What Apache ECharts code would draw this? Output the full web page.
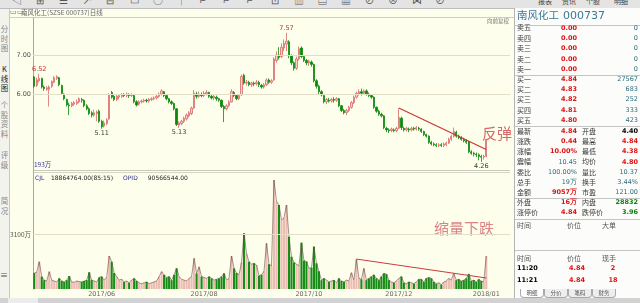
<!DOCTYPE html>
<html><head><meta charset="utf-8">
<script src="https://cdn.jsdelivr.net/npm/echarts/dist/echarts.min.js"></script>
<style>
html,body{margin:0;padding:0;}
body{width:640px;height:303px;overflow:hidden;background:#fefeec;position:relative;font-family:"Noto Sans CJK SC","Noto Sans",sans-serif;}
#chart{position:absolute;left:0;top:0;width:514px;height:303px;}
.abs{position:absolute;white-space:nowrap;}
#panel{position:absolute;left:514px;top:8px;width:126px;height:290px;background:#fcfcfa;border-left:1px solid #b4b4b4;box-sizing:border-box;}
.hl{position:absolute;left:515px;width:125px;height:0;border-top:1px solid #c4c4c4;}
#toolbar{position:absolute;left:0;top:0;width:640px;height:8px;background:#e4e4e4;border-bottom:1px solid #bdbdbd;overflow:hidden;}
#side{position:absolute;left:0;top:9px;width:9px;height:289px;background:#f3f3ee;border-right:1px solid #c8c8c8;overflow:hidden;}
#scroll{position:absolute;left:0;top:298px;width:640px;height:5px;background:#d2d2d2;}
</style></head>
<body>
<div id="chart"></div>
<div id="toolbar"></div>
<div id="side"></div>
<div id="panel"></div>
<div id="scroll"><div style="position:absolute;left:8px;top:0;width:30px;height:5px;background:#ececec"></div></div>
<script>
// ---------- data ----------
// [open, close, low, high]
const ohlc = [
[6.44,6.20,6.16,6.46],[6.22,6.36,6.18,6.42],[6.34,6.40,6.30,6.52],[6.40,6.18,6.14,6.42],[6.18,6.14,6.08,6.22],
[6.12,6.16,6.08,6.20],[6.12,6.18,5.68,6.22],[6.20,6.32,6.16,6.35],[6.30,6.42,6.28,6.46],[6.40,6.44,6.36,6.48],
[6.42,6.24,6.20,6.44],[6.22,6.02,5.98,6.24],[6.00,5.88,5.84,6.02],[5.86,5.72,5.68,5.88],[5.72,5.70,5.46,5.78],
[5.70,5.76,5.66,5.80],[5.74,5.78,5.70,5.82],[5.76,5.80,5.72,5.86],[5.80,5.88,5.76,5.92],[5.86,5.84,5.78,5.90],
[5.84,5.70,5.66,5.86],[5.70,5.62,5.58,5.74],[5.62,5.50,5.46,5.66],[5.52,5.46,5.40,5.56],[5.46,5.52,5.42,5.60],
[5.50,5.54,5.30,5.58],[5.56,5.30,5.26,5.60],[5.30,5.16,5.11,5.34],[5.18,5.26,5.14,5.32],[5.24,5.34,5.20,5.38],
[5.36,5.98,5.34,6.02],[6.04,5.92,5.88,6.08],[5.94,5.86,5.82,5.98],[5.86,5.94,5.82,5.98],[5.92,5.96,5.86,6.00],
[5.94,5.98,5.90,6.02],[5.98,5.96,5.92,6.02],[5.96,6.00,5.92,6.04],[5.98,5.96,5.90,6.02],[5.96,5.98,5.92,6.02],
[5.96,5.80,5.76,5.98],[5.80,5.72,5.68,5.84],[5.74,5.80,5.70,5.84],[5.80,5.82,5.76,5.86],[5.82,5.84,5.78,5.88],
[5.84,5.82,5.78,5.88],[5.82,5.86,5.78,5.90],[5.86,5.88,5.82,5.92],[5.88,5.90,5.84,5.94],[5.90,5.94,5.86,5.98],
[5.94,6.00,5.90,6.04],[6.00,6.08,5.96,6.12],[6.06,5.96,5.92,6.08],[5.96,5.88,5.84,5.98],[5.88,5.80,5.76,5.90],
[5.80,5.76,5.72,5.84],[5.76,5.62,5.58,5.78],[5.62,5.22,5.18,5.64],[5.20,5.26,5.13,5.30],[5.24,5.30,5.20,5.34],
[5.30,5.38,5.26,5.42],[5.36,5.46,5.32,5.50],[5.44,5.52,5.40,5.56],[5.50,5.64,5.46,5.68],[5.64,6.02,5.62,6.10],
[6.00,5.94,5.88,6.06],[5.94,6.00,5.90,6.06],[5.98,5.96,5.92,6.04],[5.96,6.02,5.92,6.08],[6.00,6.04,5.96,6.10],
[6.04,5.94,5.90,6.06],[5.94,5.90,5.86,5.98],[5.90,5.94,5.84,5.98],[5.92,5.88,5.82,5.96],[5.88,5.84,5.80,5.90],
[5.84,5.68,5.64,5.86],[5.68,5.62,5.28,5.72],[5.62,5.70,5.58,5.74],[5.70,5.80,5.66,5.84],[5.80,6.06,5.78,6.12],
[6.04,5.96,5.92,6.08],[5.96,5.88,5.84,6.00],[5.88,5.96,5.84,6.00],[5.98,6.45,5.95,6.50],[6.48,6.28,6.24,6.52],
[6.28,6.30,6.22,6.36],[6.30,6.24,6.20,6.34],[6.24,6.28,6.18,6.32],[6.28,6.26,6.20,6.32],[6.26,6.30,6.22,6.36],
[6.30,6.24,6.18,6.34],[6.22,6.18,6.14,6.26],[6.18,6.24,6.14,6.28],[6.24,6.36,6.20,6.40],[6.36,6.30,6.26,6.40],
[6.30,6.34,6.26,6.38],[6.36,6.90,6.34,6.94],[6.86,7.00,6.80,7.10],[7.00,6.94,6.88,7.20],[6.96,7.20,6.92,7.30],
[7.18,7.30,7.10,7.40],[7.28,7.36,7.10,7.57],[7.34,6.98,6.92,7.38],[6.98,6.80,6.74,7.02],[6.80,6.66,6.60,6.84],
[6.66,6.90,6.62,6.96],[6.90,7.16,6.86,7.22],[7.18,6.96,6.92,7.22],[6.96,6.86,6.82,7.00],[6.86,6.80,6.74,6.90],
[6.80,6.84,6.72,6.88],[6.82,6.76,6.70,6.86],[6.76,6.34,6.30,6.78],[6.34,6.20,6.14,6.38],[6.20,6.06,6.00,6.24],
[6.06,5.98,5.94,6.10],[5.96,5.80,5.76,5.98],[5.80,5.86,5.74,5.90],[5.84,5.82,5.78,5.90],[5.82,5.86,5.78,5.90],
[5.86,5.84,5.78,5.92],[5.84,5.88,5.80,5.92],[5.88,5.70,5.66,5.90],[5.70,5.58,5.54,5.72],[5.58,5.52,5.48,5.62],
[5.52,5.58,5.46,5.62],[5.58,5.66,5.54,5.70],[5.66,5.78,5.62,5.82],[5.78,5.92,5.74,5.96],[5.92,6.02,5.88,6.06],
[6.00,6.06,5.96,6.12],[6.06,6.02,5.96,6.14],[6.02,6.08,5.98,6.12],[6.08,6.00,5.96,6.12],[6.00,5.96,5.92,6.04],
[5.96,5.92,5.88,6.00],[5.92,5.66,5.62,5.94],[5.66,5.56,5.52,5.68],[5.56,5.48,5.44,5.60],[5.48,5.44,5.40,5.52],
[5.44,5.14,5.10,5.46],[5.12,5.08,5.02,5.16],[5.08,5.06,5.00,5.12],[5.06,5.10,5.02,5.14],[5.08,5.06,5.02,5.12],
[5.06,5.12,5.02,5.16],[5.12,5.40,5.10,5.64],[5.38,5.14,5.08,5.42],[5.12,5.08,5.04,5.16],[5.08,5.12,5.04,5.16],
[5.10,5.08,5.02,5.14],[5.08,5.12,5.04,5.16],[5.12,5.10,5.06,5.16],[5.10,5.14,5.06,5.18],[5.12,5.10,5.06,5.16],
[5.10,5.04,5.00,5.12],[5.04,4.96,4.92,5.06],[4.96,4.92,4.88,4.98],[4.92,4.76,4.72,4.94],[4.76,4.72,4.68,4.80],
[4.72,4.70,4.66,4.76],[4.70,4.68,4.64,4.74],[4.68,4.70,4.64,4.74],[4.70,4.68,4.64,4.74],[4.68,4.72,4.64,4.76],
[4.70,4.74,4.66,4.78],[4.74,4.84,4.72,4.88],[4.84,4.92,4.80,4.96],[4.92,5.04,4.88,5.14],[5.02,4.92,4.88,5.06],
[4.92,4.88,4.84,4.96],[4.88,4.84,4.80,4.92],[4.84,4.80,4.76,4.88],[4.80,4.76,4.72,4.84],[4.78,4.52,4.48,4.80],
[4.52,4.48,4.44,4.56],[4.48,4.46,4.40,4.52],[4.46,4.44,4.38,4.50],[4.44,4.40,4.30,4.48],[4.40,4.38,4.26,4.44],
[4.38,4.40,4.32,4.44],[4.40,4.84,4.38,4.84]
];
// volume, 万股
const volumes = [
900,950,1540,700,500,450,980,500,450,400,600,450,400,500,730,400,380,450,420,400,
450,500,940,500,450,400,650,700,500,650,1860,1540,900,700,500,550,400,450,350,500,
600,450,350,300,350,400,300,350,400,450,700,980,800,650,700,500,800,1165,700,550,
500,450,600,700,1730,880,1250,700,650,600,700,600,500,550,600,700,880,500,600,1860,
1165,900,800,1500,3140,2000,1540,1400,1450,1350,750,800,1000,2580,1400,1300,6150,4930,4740,3900,
4000,4740,2950,1820,1500,1400,1300,2610,1600,1550,1165,1200,2390,1450,1000,500,600,500,400,450,
500,350,600,450,400,500,450,920,500,1670,600,550,1165,500,600,700,800,600,500,700,
880,840,500,400,350,450,600,700,350,300,400,350,300,400,550,550,400,600,650,600,
400,300,350,250,400,450,600,500,880,500,550,450,500,600,850,450,500,400,550,450,
400,1860
];
const totalSlots = 191;            // category slots incl. empty space at right
const dateLabels = ['2017/06','2017/08','2017/10','2017/12','2018/01'];
const dateLabelIdx = [27, 68, 110, 146, 181];
const priceTickLabels = [6, 7];
const volTickLabels = [3100];
const extremes = [
  {i:2, v:6.52, pos:'top'}, {i:27, v:5.11, pos:'bottom'}, {i:58, v:5.13, pos:'bottom'},
  {i:101, v:7.57, pos:'top'}, {i:179, v:4.26, pos:'bottom'}
];
const priceTrend = [[146, 5.64], [181, 4.58]];
const volTrend = [[129, 1690], [181, 620]];

// ---------- chart ----------
const cats = Array.from({length: totalSlots}, (_, i) => String(i));
const UP_FILL = '#f5d3ce', UP_LINE = '#d86a6a', DOWN = '#0c880c';
const isUp = d => d[1] >= d[0];
const volData = volumes.map((v, i) => ({
  value: v,
  itemStyle: {color: isUp(ohlc[i]) ? '#ebbcb2' : '#178c17'}
}));

const chart = echarts.init(document.getElementById('chart'), null, {renderer: 'canvas'});
const gridLine = {color: '#e3dfc7', width: 1, type: 'solid'};
chart.setOption({
  animation: false,
  backgroundColor: 'transparent',
  grid: [
    {left: 33, top: 18, width: 477, height: 154},
    {left: 33, top: 172, width: 477, height: 117}
  ],
  xAxis: [
    {type: 'category', data: cats, gridIndex: 0, boundaryGap: true,
     axisLine: {show: false}, axisTick: {show: false}, axisLabel: {show: false}, splitLine: {show: false}},
    {type: 'category', data: cats, gridIndex: 1, boundaryGap: true,
     axisLine: {show: false}, axisTick: {show: false}, splitLine: {show: false},
     axisLabel: {
       show: true, fontSize: 6.5, color: '#666', margin: 2, fontFamily: 'DejaVu Sans',
       interval: (idx) => dateLabelIdx.indexOf(idx) >= 0,
       formatter: (val, idx) => { const k = dateLabelIdx.indexOf(idx); return k >= 0 ? dateLabels[k] : ''; }
     }}
  ],
  yAxis: [
    {type: 'value', gridIndex: 0, min: 4, max: 7.95, interval: 1,
     axisLine: {show: true, lineStyle: {color: '#a8a8a0'}}, axisTick: {show: false}, splitLine: {show: false},
     axisLabel: {fontSize: 6.5, color: '#555', margin: 2, fontFamily: 'DejaVu Sans',
       formatter: v => priceTickLabels.indexOf(v) >= 0 ? v.toFixed(2) : ''}},
    {type: 'value', gridIndex: 1, min: 0, max: 6600, interval: 3100,
     axisLine: {show: true, lineStyle: {color: '#a8a8a0'}}, axisTick: {show: false}, splitLine: {show: false},
     axisLabel: {fontSize: 6.5, color: '#555', margin: 2, fontFamily: 'Noto Sans CJK SC',
       formatter: v => volTickLabels.indexOf(v) >= 0 ? v + '万' : ''}}
  ],
  series: [
    {
      type: 'candlestick', xAxisIndex: 0, yAxisIndex: 0, data: ohlc, barWidth: '72%',
      itemStyle: {color: UP_FILL, borderColor: UP_LINE, color0: DOWN, borderColor0: DOWN, borderWidth: 0.8},
      markLine: {
        silent: true, symbol: 'none', label: {show: false}, animation: false,
        data: [
          ...priceTickLabels.map(v => ({yAxis: v, lineStyle: gridLine})),
          [{coord: priceTrend[0], lineStyle: {color: '#c83434', width: 1.1, type: 'solid'}}, {coord: priceTrend[1]}]
        ]
      },
      markPoint: {
        silent: true, symbol: 'circle', symbolSize: 0.1, animation: false,
        data: extremes.map(e => ({
          coord: [e.i, e.v], value: e.v.toFixed(2),
          label: {show: true, position: e.pos, distance: 1, fontSize: 6.5, fontFamily: 'DejaVu Sans',
                  color: e.pos === 'top' ? '#b43232' : '#2e3e2e', formatter: '{c}'}
        }))
      }
    },
    {
      type: 'bar', xAxisIndex: 1, yAxisIndex: 1, data: volData, barWidth: '85%',
      markLine: {
        silent: true, symbol: 'none', label: {show: false}, animation: false,
        data: [
          ...volTickLabels.map(v => ({yAxis: v, lineStyle: gridLine})),
          [{coord: volTrend[0], lineStyle: {color: '#c83c3c', width: 1, type: 'solid'}}, {coord: volTrend[1]}]
        ]
      }
    },
    {
      type: 'line', xAxisIndex: 1, yAxisIndex: 1, data: volumes, symbol: 'none',
      lineStyle: {color: '#6a4a48', width: 0.6}, z: 3
    }
  ],
  graphic: [
    {type: 'line', shape: {x1: 0, y1: 17.5, x2: 514, y2: 17.5}, style: {stroke: '#cfcfc4', lineWidth: 1}},
    {type: 'line', shape: {x1: 33, y1: 170.5, x2: 510, y2: 170.5}, style: {stroke: '#c9c9bc', lineWidth: 1}},
    {type: 'line', shape: {x1: 33, y1: 172.5, x2: 510, y2: 172.5}, style: {stroke: '#d6d6c8', lineWidth: 1}},
    {type: 'text', left: 10, top: 9, style: {text: '▭▭', fontSize: 7, fill: '#666'}},
    {type: 'text', left: 21, top: 9.5, style: {text: '南风化工(SZSE 000737)日线', fontSize: 6.5, fill: '#666', fontFamily: 'Noto Sans CJK SC'}},
    {type: 'text', left: 487, top: 18, style: {text: '向前复权', fontSize: 5.5, fill: '#777', fontFamily: 'Noto Sans CJK SC'}},
    {type: 'text', left: 34, top: 161.5, style: {text: '193万', fontSize: 6.5, fill: '#3a3aa0', fontFamily: 'Noto Sans CJK SC'}},
    {type: 'text', left: 35, top: 172.5, style: {
      text: '{a|CJL}  {b|18864764.00(85:15)}   {a|OPID}   {b|90566544.00}',
      rich: {a: {fontSize: 6, fill: '#2a2a88', fontFamily: 'DejaVu Sans'}, b: {fontSize: 6, fill: '#222', fontFamily: 'DejaVu Sans'}}
    }},
    {type: 'text', left: 482, top: 125.5, style: {text: '反弹', fontSize: 15, fill: '#d46a6a', fontFamily: 'Noto Sans CJK SC'}},
    {type: 'text', left: 434, top: 220.5, style: {text: '缩量下跌', fontSize: 15, fill: '#d98585', fontFamily: 'Noto Sans CJK SC'}}
  ]
});

// ---------- right panel ----------
const RED = '#e01212', TEAL = '#2c6c7e', GRN = '#118011', LAB = '#3a3a3a', BLK = '#000';
const askRows = [['卖五','0.00','0'],['卖四','0.00','0'],['卖三','0.00','0'],['卖二','0.00','0'],['卖一','0.00','0']];
const bidRows = [['买一','4.84','27567'],['买二','4.83','683'],['买三','4.82','252'],['买四','4.81','333'],['买五','4.80','423']];
const statRows = [
  ['最新','4.84',RED,'开盘','4.40',BLK],
  ['涨跌','0.44',RED,'最高','4.84',RED],
  ['涨幅','10.00%',RED,'最低','4.38',RED],
  ['震幅','10.45',TEAL,'均价','4.80',RED],
  ['委比','100.00%',TEAL,'量比','10.37',TEAL],
  ['总手','19万',TEAL,'换手','3.44%',TEAL],
  ['金额','9057万',RED,'市盈','121.00',TEAL],
  ['外盘','16万',RED,'内盘','28832',GRN],
  ['涨停价','4.84',RED,'跌停价','3.96',GRN]
];
const askY = [28.3, 38.7, 49.1, 59.5, 69.9];
const bidY = [79.6, 89.9, 100.2, 110.5, 120.8];
const statY = [131.8, 142, 152.2, 162.4, 172.6, 182.8, 193, 203, 213.2];
const tradeRows = [['11:20','4.84','2'],['11:21','4.84','18']];
const tradeY = [268.5, 280.5];
const panelLines = [24.5, 74.8, 126, 198, 218.8, 250];
const tabs = ['明细','分价','笔码','财务'];

const body = document.body;
function txt(s, x, y, opt) {
  const d = document.createElement('div');
  d.className = 'abs';
  const fs = opt.fs || 7;
  d.style.fontSize = fs + 'px';
  d.style.lineHeight = fs + 'px';
  d.style.top = (y - fs / 2 - 0.5) + 'px';
  d.style.color = opt.c || LAB;
  if (opt.bold) d.style.fontWeight = 'bold';
  if (opt.ff) d.style.fontFamily = opt.ff;
  if (opt.right) { d.style.right = (640 - x) + 'px'; } else { d.style.left = x + 'px'; }
  if (opt.center) { d.style.left = (x - 20) + 'px'; d.style.width = '40px'; d.style.textAlign = 'center'; }
  d.textContent = s;
  body.appendChild(d);
  return d;
}
const NUM = 'DejaVu Sans';
txt('南风化工', 517, 15.5, {fs: 10.5, c: '#3a7898'});
txt('000737', 563, 15.5, {fs: 11, c: '#3a7898', ff: NUM});
panelLines.forEach(y => { const l = document.createElement('div'); l.className = 'hl'; l.style.top = y + 'px'; body.appendChild(l); });
askRows.forEach((r, k) => {
  txt(r[0], 517, askY[k], {});
  txt(r[1], 577, askY[k], {right: true, c: RED, bold: true, ff: NUM, fs: 6.5});
  txt(r[2], 638, askY[k], {right: true, c: TEAL, ff: NUM, fs: 6.5});
});
bidRows.forEach((r, k) => {
  txt(r[0], 517, bidY[k], {});
  txt(r[1], 577, bidY[k], {right: true, c: RED, bold: true, ff: NUM, fs: 6.5});
  txt(r[2], 638, bidY[k], {right: true, c: TEAL, ff: NUM, fs: 6.5});
});
statRows.forEach((r, k) => {
  txt(r[0], 517, statY[k], {});
  txt(r[1], 577, statY[k], {right: true, c: r[2], ff: NUM, fs: 6.5, bold: r[2] === RED});
  txt(r[3], 582, statY[k], {});
  txt(r[4], 638, statY[k], {right: true, c: r[5], ff: NUM, fs: 6.5, bold: r[5] !== TEAL});
});
txt('时间', 517, 225.5, {c: '#555'});
txt('价位', 574, 225.5, {center: true, c: '#555'});
txt('大单', 609, 225.5, {center: true, c: '#555'});
txt('时间', 517, 258.5, {c: '#555'});
txt('价位', 574, 258.5, {center: true, c: '#555'});
txt('现手', 609, 258.5, {center: true, c: '#555'});
tradeRows.forEach((r, k) => {
  txt(r[0], 517, tradeY[k], {c: BLK, bold: true, ff: NUM, fs: 6.5});
  txt(r[1], 577, tradeY[k], {center: true, c: RED, bold: true, ff: NUM, fs: 6.5});
  txt(r[2], 613, tradeY[k], {center: true, c: RED, bold: true, ff: NUM, fs: 6.5});
});
tabs.forEach((t, k) => {
  const x = 520 + k * 24;
  const d = document.createElement('div');
  d.className = 'abs';
  d.style.cssText = 'left:' + x + 'px;top:289px;width:22px;height:8px;border:1px solid #aaa;border-top:none;' +
    'border-radius:0 0 4px 4px;background:' + (k === 0 ? '#fff' : '#eee') + ';font-size:5.5px;line-height:8px;text-align:center;color:#555;';
  d.textContent = t;
  body.appendChild(d);
});

// toolbar glyphs (clipped, partially visible)
const toolGlyphs = ['◁','⊞','☰','↗','⊟','▭','○','┼','⌐','⌐','⌐','⊡','▥','▤','▦','⊘','⊗','⋈','⊘'];
const tb = document.getElementById('toolbar');
toolGlyphs.forEach((g, k) => {
  const d = document.createElement('div');
  d.className = 'abs';
  d.style.cssText = 'left:' + (12 + k * 23.5) + 'px;top:-5px;font-size:10px;line-height:10px;color:#555;';
  d.textContent = g;
  tb.appendChild(d);
});
const topTabs = [['报表', 538], ['资讯', 562], ['个股', 586], ['明细', 614]];
topTabs.forEach(t => {
  const d = document.createElement('div');
  d.className = 'abs';
  d.style.cssText = 'left:' + t[1] + 'px;top:-3px;font-size:7px;line-height:8px;color:#444;';
  d.textContent = t[0];
  tb.appendChild(d);
});
// side tabs (vertical, clipped)
const sideTabs = [['分时图', 24], ['K线图', 64], ['个股资料', 100], ['评级', 150], ['简况', 196]];
const side = document.getElementById('side');
sideTabs.forEach(t => {
  const d = document.createElement('div');
  d.className = 'abs';
  d.style.cssText = 'left:0px;top:' + (t[1] - 9) + 'px;width:9px;font-size:7.5px;line-height:9.5px;color:' +
    (t[0] === 'K线图' ? '#222' : '#888') + ';white-space:normal;word-break:break-all;text-align:center;';
  d.textContent = t[0];
  side.appendChild(d);
});
const menu = document.createElement('div');
menu.className = 'abs';
menu.style.cssText = 'left:0;top:262px;font-size:8px;line-height:8px;color:#555;';
menu.textContent = '≡';
side.appendChild(menu);
</script>
</body></html>
